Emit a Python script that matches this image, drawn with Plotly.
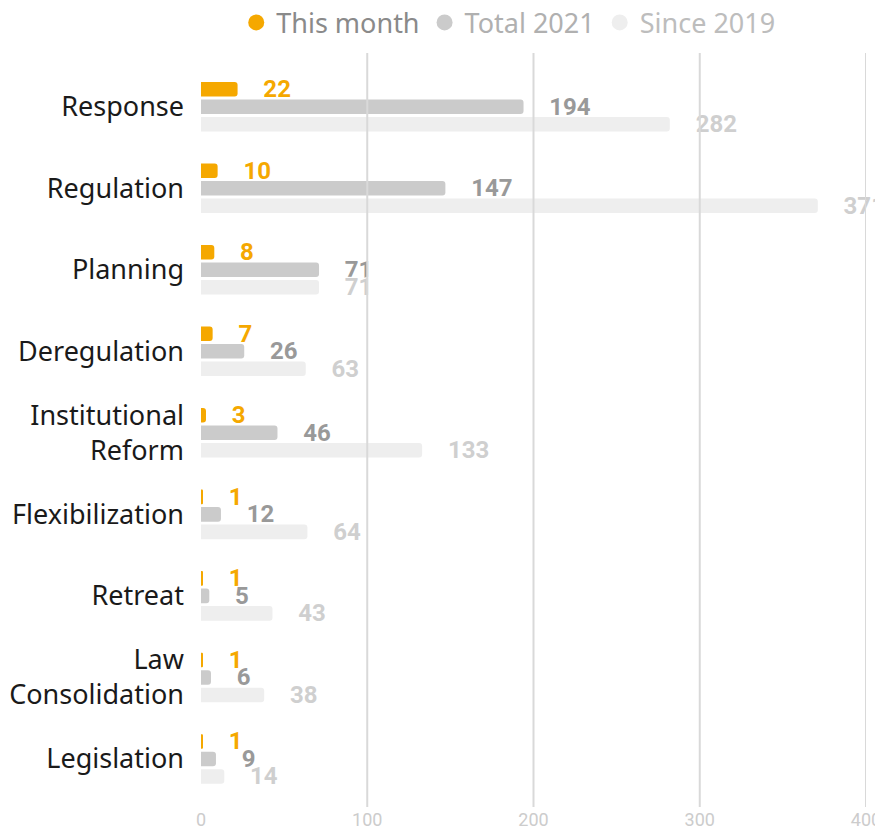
import plotly.graph_objects as go

categories = ["Response", "Regulation", "Planning", "Deregulation",
              "Institutional<br>Reform", "Flexibilization", "Retreat",
              "Law<br>Consolidation", "Legislation"]
this_month = [22, 10, 8, 7, 3, 1, 1, 1, 1]
total_2021 = [194, 147, 71, 26, 46, 12, 5, 6, 9]
since_2019 = [282, 371, 71, 63, 133, 64, 43, 38, 14]

series_names = ["This month", "Total 2021", "Since 2019"]
bar_colors = ["#F5A800", "#CBCBCB", "#EEEEEE"]
label_colors = ["#F5A800", "#999999", "#CFCFCF"]
legend_text_colors = ["#8A8A8A", "#B0B0B0", "#BDBDBD"]
x_ticks = [0, 100, 200, 300, 400]

pad = "\u00a0" * 3 + "\u2009"
halo = "1px 1px 1px #fff, -1px -1px 1px #fff, 1px -1px 1px #fff, -1px 1px 1px #fff"

fig = go.Figure()
for name, vals, bc, lc in zip(series_names, [this_month, total_2021, since_2019],
                              bar_colors, label_colors):
    fig.add_trace(go.Bar(
        y=categories, x=vals, orientation="h", name=name,
        marker=dict(color=bc, cornerradius=3, line=dict(width=0)),
        texttemplate=pad + "%{x}", textposition="outside",
        textfont=dict(family="Roboto", size=24, color=lc, weight="bold", shadow=halo),
        constraintext="none", cliponaxis=False, showlegend=False,
        hoverinfo="x+y",
    ))

for name, bc, tc in zip(series_names, bar_colors, legend_text_colors):
    fig.add_trace(go.Scatter(
        x=[None], y=[None], mode="markers",
        marker=dict(symbol="circle", size=16, color=bc),
        name=f"<span style='color:{tc}'>{name}</span>", showlegend=True,
    ))

for t in x_ticks[1:]:
    fig.add_shape(type="line", x0=t, x1=t, xref="x", y0=0, y1=1, yref="paper",
                  line=dict(color="#D9D9D9", width=2), layer="above")

fig.update_layout(
    width=875, height=822,
    margin=dict(l=193, r=17, t=45, b=23, autoexpand=False),
    paper_bgcolor="white", plot_bgcolor="white",
    barmode="group", bargap=0.356, bargroupgap=0.17,
    legend=dict(orientation="h", x=0.053, xanchor="left", y=1.04, yanchor="middle",
                font=dict(family="Noto Sans", size=27, color="#999999"),
                itemclick=False, itemdoubleclick=False, tracegroupgap=0),
    xaxis=dict(range=[0, 400], tickvals=x_ticks, showgrid=False, zeroline=False,
               showline=False, ticks="", automargin=False,
               tickfont=dict(family="Roboto", size=18, color="#CCCCCC"),
               ticklabelstandoff=0),
    yaxis=dict(categoryorder="array", categoryarray=categories, automargin=False,
               range=[8.59, -0.66], showgrid=False, zeroline=False, showline=False,
               ticks="", tickfont=dict(family="Noto Sans", size=27, color="#1A1A1A"),
               ticklabelstandoff=16),
    font=dict(family="Noto Sans"),
)

fig.write_html("out.html")
